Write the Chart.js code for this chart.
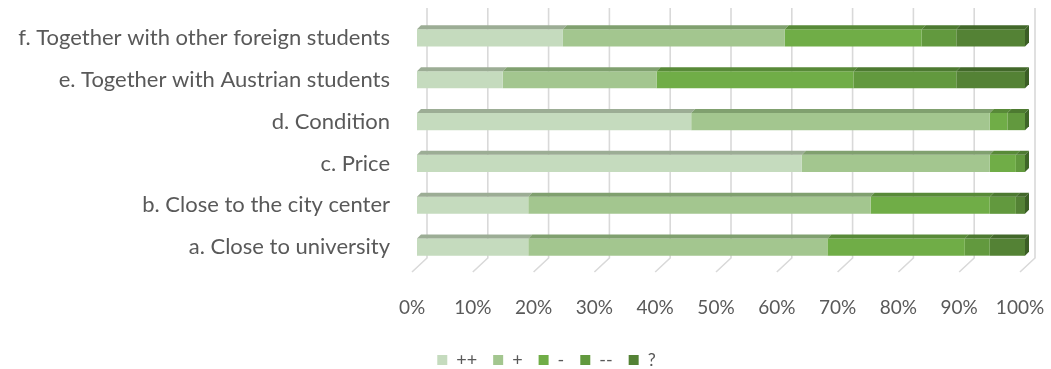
<!DOCTYPE html>
<html lang="en">
<head>
    <meta charset="UTF-8">
    <title>Accommodation preferences</title>
    <style>
        body {
            margin: 0;
            padding: 0;
            background-color: #ffffff;
        }

        #chartBox {
            width: 1051px;
            height: 369px;
        }
    </style>
</head>
<body>
    <div id="chartBox">
        <canvas id="prefChart"></canvas>
    </div>

    <script src="https://cdn.jsdelivr.net/npm/chart.js"></script>
    <script>
        // Categories, top to bottom
        const categories = [
            'f. Together with other foreign students',
            'e. Together with Austrian students',
            'd. Condition',
            'c. Price',
            'b. Close to the city center',
            'a. Close to university'
        ];

        // Share of answers per category (%)
        const veryPositive = [24.0, 14.1, 45.1, 63.3, 18.3, 18.3];
        const positive     = [36.5, 25.3, 49.1, 30.9, 56.3, 49.2];
        const negative     = [22.5, 32.4, 2.9, 4.3, 19.6, 22.6];
        const veryNegative = [5.7, 16.9, 2.9, 1.5, 4.3, 4.1];
        const unknown      = [11.3, 11.3, 0, 0, 1.5, 5.8];

        const seriesNames = ['++', '+', '-', '--', '?'];
        const xTicks = [0, 10, 20, 30, 40, 50, 60, 70, 80, 90, 100];

        const frontColors = ['#c5dbbe', '#a3c68f', '#70ad47', '#62993e', '#548235'];
        const topColors   = ['#9cad95', '#80a06f', '#588a38', '#4d7a31', '#42682a'];
        const sideColors  = ['#7e8f78', '#66845a', '#46702c', '#3f6628', '#3b5e25'];

        const fontFamily = 'Lato, "Open Sans", sans-serif';
        const textColor = '#595959';

        // back wall grid lines plus the slanted floor lines
        const wallGrid = {
            id: 'wallGrid',
            beforeDatasetsDraw(chart) {
                const ctx = chart.ctx;
                const area = chart.chartArea;
                const xs = chart.scales.x;
                ctx.save();
                ctx.strokeStyle = '#d9d9d9';
                ctx.lineWidth = 1.6;
                xTicks.forEach(v => {
                    const px = xs.getPixelForValue(v);
                    ctx.beginPath();
                    ctx.moveTo(px + 10, area.top - 9);
                    ctx.lineTo(px + 10, area.bottom - 10);
                    ctx.lineTo(px - 5, area.bottom + 4);
                    ctx.stroke();
                });
                ctx.restore();
            }
        };

        // top faces of every segment and the right face at the end of each bar
        const barDepth = {
            id: 'barDepth',
            afterDatasetsDraw(chart) {
                const ctx = chart.ctx;
                const d = 4;
                const lastIdx = categories.map(() => -1);
                chart.data.datasets.forEach((ds, i) => {
                    ds.data.forEach((v, j) => { if (v > 0) lastIdx[j] = i; });
                });
                ctx.save();
                chart.data.datasets.forEach((ds, i) => {
                    const meta = chart.getDatasetMeta(i);
                    meta.data.forEach((bar, j) => {
                        if (!(ds.data[j] > 0)) return;
                        const x1 = Math.min(bar.base, bar.x);
                        const x2 = Math.max(bar.base, bar.x);
                        const top = bar.y - bar.height / 2;
                        const bottom = bar.y + bar.height / 2;
                        ctx.fillStyle = topColors[i];
                        ctx.beginPath();
                        ctx.moveTo(x1, top);
                        ctx.lineTo(x1 + d, top - d);
                        ctx.lineTo(x2 + d, top - d);
                        ctx.lineTo(x2, top);
                        ctx.closePath();
                        ctx.fill();
                        if (lastIdx[j] === i) {
                            ctx.fillStyle = sideColors[i];
                            ctx.beginPath();
                            ctx.moveTo(x2, top);
                            ctx.lineTo(x2 + d, top - d);
                            ctx.lineTo(x2 + d, bottom - d);
                            ctx.lineTo(x2, bottom);
                            ctx.closePath();
                            ctx.fill();
                        }
                    });
                });
                ctx.restore();
            }
        };

        // nudge the legend row a little to the right of the canvas centre
        const legendShift = {
            id: 'legendShift',
            afterLayout(chart) {
                if (chart.legend) {
                    chart.legend.left += 34;
                    chart.legend.right += 34;
                }
            }
        };

        const seriesData = [veryPositive, positive, negative, veryNegative, unknown];
        const datasets = seriesNames.map((name, i) => ({
            label: name,
            data: seriesData[i],
            backgroundColor: frontColors[i],
            borderWidth: 0,
            barPercentage: 0.41,
            categoryPercentage: 1.0
        }));

        const ctx = document.getElementById('prefChart').getContext('2d');
        new Chart(ctx, {
            type: 'bar',
            data: { labels: categories, datasets: datasets },
            plugins: [wallGrid, barDepth, legendShift],
            options: {
                indexAxis: 'y',
                responsive: true,
                maintainAspectRatio: false,
                animation: false,
                layout: {
                    padding: { left: 0, right: 26, top: 17, bottom: -10 }
                },
                scales: {
                    x: {
                        stacked: true,
                        min: 0,
                        max: 100,
                        afterBuildTicks: (scale) => {
                            scale.ticks = xTicks.map(v => ({ value: v }));
                        },
                        afterFit: (scale) => {
                            scale.height = 67;
                            scale.paddingLeft = 0;
                            scale.paddingRight = 0;
                        },
                        grid: { display: false, drawTicks: false },
                        border: { display: false },
                        ticks: {
                            padding: 28,
                            labelOffset: -5,
                            maxRotation: 0,
                            color: textColor,
                            font: { family: fontFamily, size: 19 },
                            callback: (v) => v + '%'
                        }
                    },
                    y: {
                        stacked: true,
                        afterFit: (scale) => {
                            scale.width = 417;
                            scale.paddingTop = 0;
                            scale.paddingBottom = 0;
                        },
                        grid: { display: false, drawTicks: false },
                        border: { display: false },
                        ticks: {
                            padding: 27,
                            color: textColor,
                            font: { family: fontFamily, size: 22 }
                        }
                    }
                },
                plugins: {
                    legend: {
                        position: 'bottom',
                        labels: {
                            boxWidth: 10,
                            boxHeight: 10,
                            padding: 16,
                            color: textColor,
                            font: { family: fontFamily, size: 18 }
                        }
                    },
                    tooltip: { enabled: false }
                }
            }
        });
    </script>
</body>
</html>
